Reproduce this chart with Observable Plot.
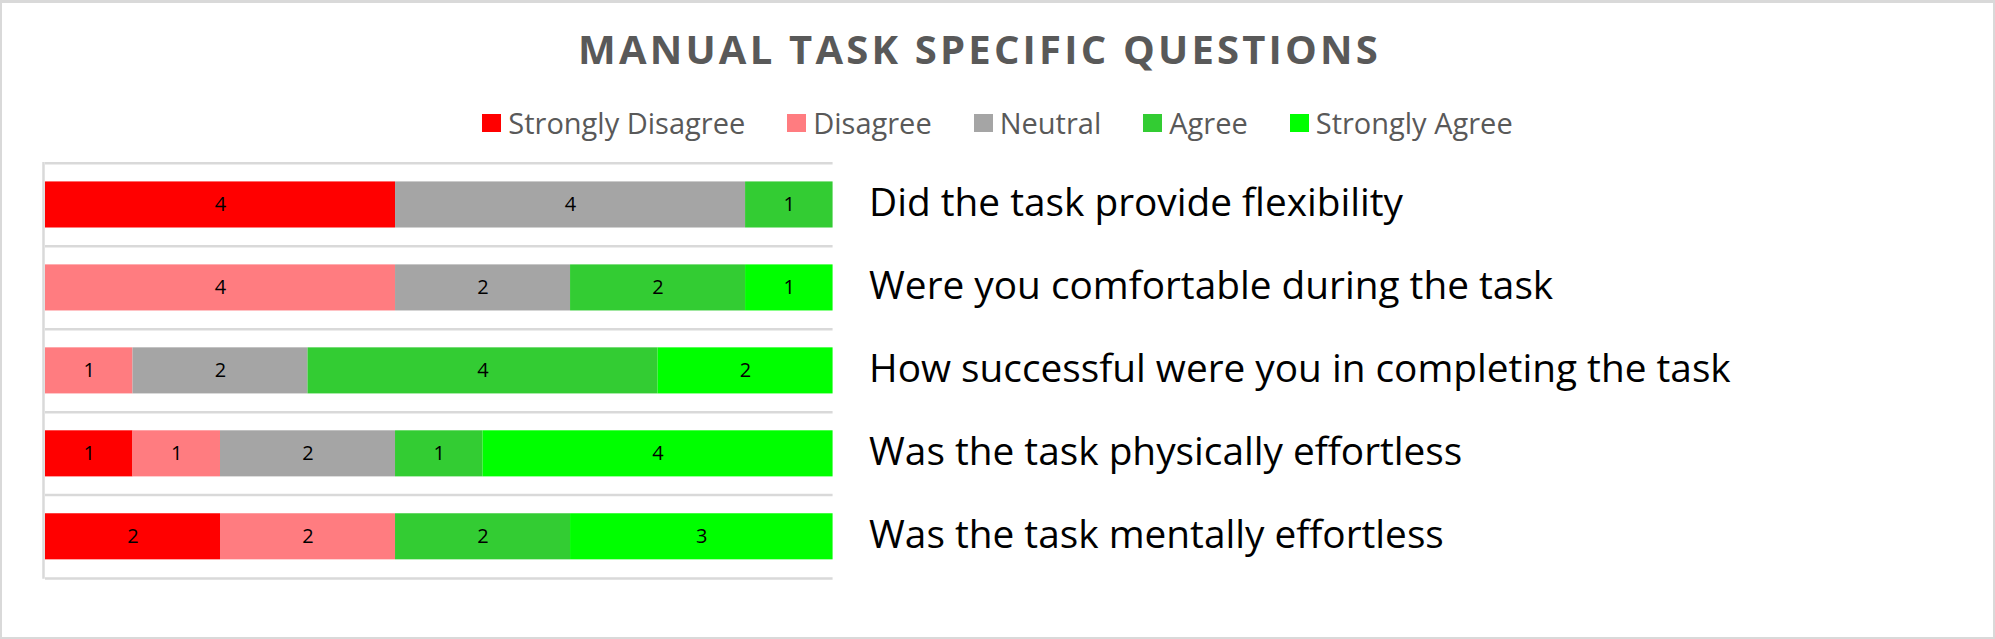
<!DOCTYPE html>
<html>
<head>
<meta charset="utf-8">
<script src="https://cdn.jsdelivr.net/npm/d3@7"></script>
<script src="https://cdn.jsdelivr.net/npm/@observablehq/plot@0.6"></script>
<style>
  html, body { margin: 0; padding: 0; background: #fff; }
  #wrap { position: relative; width: 1995px; height: 639px; box-sizing: border-box;
          border: 2px solid #d9d9d9; border-top-width: 3px; background: #fff; overflow: hidden;
          font-family: 'Open Sans', sans-serif; }
  #title { position: absolute; left: -18px; top: 26px; width: 100%; text-align: center;
           font-size: 40px; line-height: 40px; font-weight: 700; color: #595959; letter-spacing: 3.2px; }
  #legend { position: absolute; left: 0; top: 102px; width: 100%; display: flex; justify-content: center;
            align-items: center; font-size: 29px; line-height: 36px; color: #595959; }
  #legend .item { display: flex; align-items: center; margin: 0 21px; }
  #legend .sw { width: 19px; height: 18px; margin-right: 7px; }
  #chart { position: absolute; left: -3px; top: 134px; }
</style>
</head>
<body>
<div id="wrap">
  <div id="title"></div>
  <div id="legend"></div>
  <div id="chart"></div>
</div>
<script>
const title = "MANUAL TASK SPECIFIC QUESTIONS";
const questions = [
  "Did the task provide flexibility",
  "Were you comfortable during the task",
  "How successful were you in completing the task",
  "Was the task physically effortless",
  "Was the task mentally effortless"
];
const categories = ["Strongly Disagree", "Disagree", "Neutral", "Agree", "Strongly Agree"];
const colors = ["#ff0000", "#ff7c80", "#a5a5a5", "#33cc33", "#00ff00"];
const stronglyDisagree = [4, 0, 0, 1, 2];
const disagree        = [0, 4, 1, 1, 2];
const neutral         = [4, 2, 2, 2, 0];
const agree           = [1, 2, 4, 1, 2];
const stronglyAgree   = [0, 1, 2, 4, 3];
const xTicks = [0, 9];

const series = [stronglyDisagree, disagree, neutral, agree, stronglyAgree];
const data = [];
questions.forEach((q, i) => {
  categories.forEach((c, j) => {
    const v = series[j][i];
    if (v > 0) data.push({question: q, category: c, value: v});
  });
});

document.getElementById("title").textContent = title;
const legend = document.getElementById("legend");
categories.forEach((c, j) => {
  const item = document.createElement("div");
  item.className = "item";
  const sw = document.createElement("span");
  sw.className = "sw";
  sw.style.background = colors[j];
  const t = document.createElement("span");
  t.textContent = c;
  item.appendChild(sw); item.appendChild(t);
  legend.appendChild(item);
});

const H = 460, mTop = 25, mBottom = 18;
const step = (H - mTop - mBottom) / questions.length;
const barH = 46.5;
const inset = (step - barH) / 2;

const chart = Plot.plot({
  width: 1995,
  height: H,
  marginTop: mTop,
  marginBottom: mBottom,
  marginLeft: 46,
  marginRight: 1995 - 834,
  style: {fontFamily: "'Open Sans', sans-serif", background: "transparent", overflow: "visible", color: "#000"},
  x: {domain: xTicks, axis: null},
  y: {domain: questions, padding: 0, label: null},
  color: {domain: categories, range: colors},
  marks: [
    Plot.ruleY(questions, {y: d => d, dy: -step / 2, stroke: "#d9d9d9", strokeWidth: 2.5}),
    Plot.ruleY([questions[questions.length - 1]], {y: d => d, dy: step / 2, stroke: "#d9d9d9", strokeWidth: 2.5}),
    Plot.ruleX([0], {stroke: "#d9d9d9", strokeWidth: 2.5, dx: -2}),
    Plot.barX(data, Plot.stackX({x: "value", y: "question", fill: "category", order: categories, insetTop: inset, insetBottom: inset})),
    Plot.text(data, Plot.stackX({x: "value", y: "question", z: "category", order: categories, text: d => String(d.value), fill: "#000", fontSize: 20})),
    Plot.axisY({anchor: "right", tickSize: 0, tickPadding: 36, fontSize: 38.8, fill: "#000", label: null, dy: -1})
  ]
});
document.getElementById("chart").appendChild(chart);
</script>
</body>
</html>
